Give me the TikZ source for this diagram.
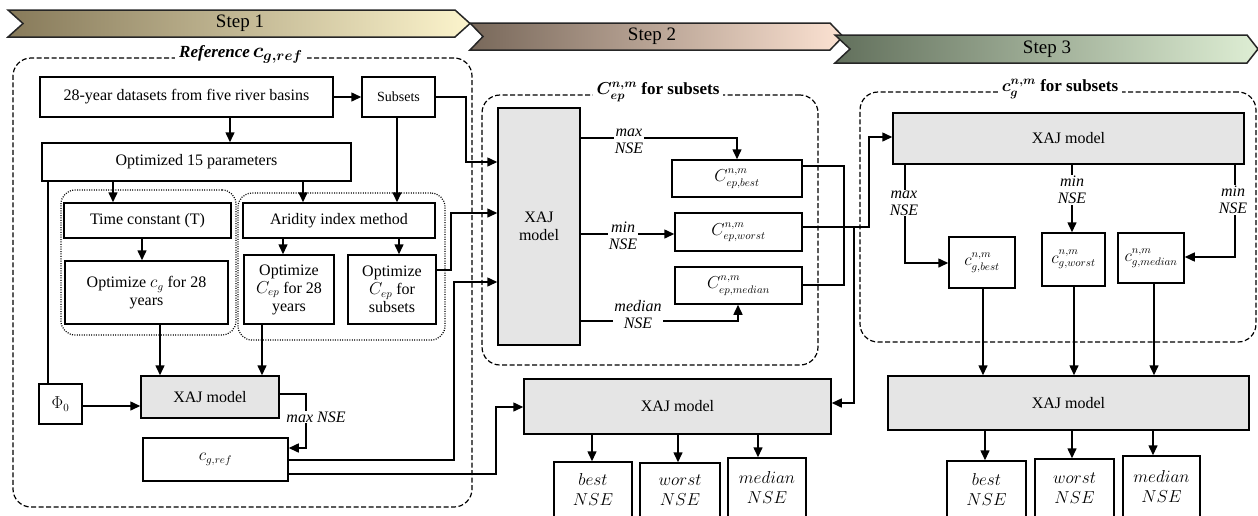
\documentclass[tikz,border=0pt]{standalone}
\usepackage{amsmath}
\usepackage{fontspec}
\setmainfont{Liberation Serif}
\usetikzlibrary{arrows.meta}

\definecolor{sOneL}{RGB}{135,122,90}
\definecolor{sOneR}{RGB}{252,244,204}
\definecolor{sTwoL}{RGB}{120,104,90}
\definecolor{sTwoR}{RGB}{252,226,210}
\definecolor{sThreeL}{RGB}{98,112,92}
\definecolor{sThreeR}{RGB}{222,238,212}
\definecolor{modelgray}{RGB}{229,229,229}

% box from its corners: name, x1, y1, x2, y2, style, text
\newcommand{\mkbox}[7]{%
  \node[#6, minimum width={(#4-#2)*1pt}, minimum height={(#5-#3)*1pt}]
    (#1) at ({(#2+#4)/2},{(#3+#5)/2}) {#7};}

\tikzset{
  box/.style={draw, line width=1.5pt, fill=white, inner sep=1pt, align=center,
    font=\fontsize{16}{18}\selectfont},
  model/.style={box, fill=modelgray},
  nse/.style={box, font=\fontsize{16}{20}\selectfont},
  grp/.style={draw, dash pattern=on 5pt off 2.5pt, line width=1.2pt, rounded corners=18pt, inner sep=0pt},
  dotgrp/.style={draw, dash pattern=on 1pt off 1.4pt, line width=1.2pt, rounded corners=14pt, inner sep=0pt},
  arr/.style={line width=1.5pt, -{Triangle[length=10pt,width=9pt]}},
  ln/.style={line width=1.5pt},
  lbl/.style={fill=white, inner sep=1pt, align=center, font=\fontsize{16}{17}\selectfont\itshape},
  ttl/.style={fill=white, inner sep=4pt, font=\fontsize{17}{18}\selectfont\bfseries},
  steptxt/.style={font=\fontsize{19}{20}\selectfont},
  banner/.style={line width=1.5pt, draw=black!85},
}

\begin{document}
\begin{tikzpicture}[x=1pt, y=-1pt]
\clip (0,0) rectangle (1258,515);
\fill[white] (0,0) rectangle (1258,515);

% ---- step banners ----
\draw[banner, left color=sOneL, right color=sOneR]
  (8,10) -- (455,10) -- (470,23.5) -- (455,37) -- (8,37) -- (23,23.5) -- cycle;
\draw[banner, left color=sTwoL, right color=sTwoR]
  (470,23) -- (830,23) -- (843,36.5) -- (830,50) -- (470,50) -- (483,36.5) -- cycle;
\draw[banner, left color=sThreeL, right color=sThreeR]
  (835,35) -- (1247,35) -- (1258,49) -- (1247,63) -- (835,63) -- (850,49) -- cycle;
\node[steptxt] (stepA) at (240,23.5) {Step 1};
\node[steptxt] (stepB) at (652,36.5) {Step 2};
\node[steptxt] (stepC) at (1047,49) {Step 3};

% ---- group frames ----
\mkbox{grpA}{13}{58}{472}{507}{grp}{}
\mkbox{dotA}{61}{190}{236}{335}{dotgrp}{}
\mkbox{dotB}{238}{193}{445}{340}{dotgrp}{}
\mkbox{grpB}{482}{95}{818}{365}{grp}{}
\mkbox{grpC}{860}{92}{1256}{342}{grp}{}

% ---- step 1 ----
\mkbox{data}{40}{77}{333}{117}{box}{28-year datasets from five river basins}
\mkbox{subsets}{362}{77}{435}{117}{box, font=\fontsize{14}{16}\selectfont}{Subsets}
\mkbox{optfif}{42}{143}{351}{181}{box}{Optimized 15 parameters}
\mkbox{tconst}{64}{203}{231}{238}{box}{Time constant (T)}
\mkbox{aridity}{243}{203}{435}{238}{box}{Aridity index method}
\mkbox{optcg}{65}{261}{228}{324}{box}{Optimize $c_g$ for 28\\years}
\mkbox{optcepa}{244}{255}{334}{324}{box}{Optimize\\$C_{ep}$ for 28\\years}
\mkbox{optcepb}{348}{255}{436}{324}{box}{Optimize\\$C_{ep}$ for\\subsets}
\mkbox{xajA}{141}{376}{279}{418}{model}{XAJ model}
\mkbox{phi}{39}{384}{82}{424}{box}{$\Phi_0$}
\mkbox{cgref}{143}{438}{288}{481}{box}{$c_{g,ref}$}

% ---- step 2 ----
\mkbox{xajB}{498}{108}{580}{345}{model}{XAJ\\model}
\mkbox{cbest}{672}{160}{802}{197}{box}{$C_{ep,best}^{n,m}$}
\mkbox{cworst}{675}{213}{802}{251}{box}{$C_{ep,worst}^{n,m}$}
\mkbox{cmed}{675}{267}{802}{304}{box}{$C_{ep,median}^{n,m}$}
\mkbox{xajC}{524}{379}{831}{434}{model}{XAJ model}
\mkbox{bestB}{554}{462}{632}{517}{nse}{$best$\\$NSE$}
\mkbox{worstB}{640}{463}{720}{517}{nse}{$worst$\\$NSE$}
\mkbox{medB}{728}{458}{806}{517}{nse}{$median$\\$NSE$}

% ---- step 3 ----
\mkbox{xajD}{893}{113}{1244}{164}{model}{XAJ model}
\mkbox{gbest}{949}{237}{1015}{288}{box}{$c_{g,best}^{n,m}$}
\mkbox{gworst}{1042}{233}{1105}{286}{box}{$c_{g,worst}^{n,m}$}
\mkbox{gmed}{1118}{233}{1184}{283}{box}{$c_{g,median}^{n,m}$}
\mkbox{xajE}{888}{376}{1249}{430}{model}{XAJ model}
\mkbox{bestC}{947}{461}{1026}{517}{nse}{$best$\\$NSE$}
\mkbox{worstC}{1035}{459}{1114}{517}{nse}{$worst$\\$NSE$}
\mkbox{medC}{1123}{456}{1200}{517}{nse}{$median$\\$NSE$}

% ---- connectors, step 1 ----
\draw[arr] (data) -- (subsets);
\draw[arr] (data.south -| 230,0) -- (optfif.north -| 230,0);
\draw[arr] (optfif.south -| 113,0) -- (tconst.north -| 113,0);
\draw[arr] (optfif.south -| 303,0) -- (aridity.north -| 303,0);
\draw[arr] (subsets.south -| 397,0) -- (aridity.north -| 397,0);
\draw[arr] (tconst.south -| 142,0) -- (optcg.north -| 142,0);
\draw[arr] (aridity.south -| 283,0) -- (optcepa.north -| 283,0);
\draw[arr] (aridity.south -| 399,0) -- (optcepb.north -| 399,0);
\draw[arr] (optcg.south -| 160,0) -- (xajA.north -| 160,0);
\draw[arr] (optcepa.south -| 262,0) -- (xajA.north -| 262,0);
\draw[ln] (optfif.south -| 48,0) -- (phi.north -| 48,0);
\draw[arr] (phi.east |- 0,406) -- (xajA.west |- 0,406);
\draw[arr] (xajA.east |- 0,394) -- ++(26,0) |- (cgref.east |- 0,448);

% ---- connectors into step 2 ----
\draw[arr] (subsets.east) -- ++(30,0) |- (xajB.west |- 0,162);
\draw[arr] (optcepb.east |- 0,270) -- ++(14,0) |- (xajB.west |- 0,213);
\draw[arr] (cgref.east |- 0,460) -- ++(165,0) |- (xajB.west |- 0,282);
\draw[arr] (cgref.east |- 0,474) -- ++(207,0) |- (xajC.west |- 0,407);

% ---- connectors, step 2 ----
\draw[arr] (xajB.east |- 0,138) -| (cbest.north -| 737,0);
\draw[arr] (xajB.east |- 0,234) -- (cworst.west |- 0,234);
\draw[arr] (xajB.east |- 0,321) -| (cmed.south -| 738,0);
\draw[ln] (cbest.east |- 0,166) -| (844,225) |- (cmed.east |- 0,285);
\draw[arr] (cworst.east |- 0,227) -- ++(66,0) |- (xajD.west |- 0,137);
\draw[arr] (cworst.east |- 0,227) -- ++(51,0) |- (xajC.east |- 0,403);
\draw[arr] (xajC.south -| 592,0) -- (bestB.north -| 592,0);
\draw[arr] (xajC.south -| 678,0) -- (worstB.north -| 678,0);
\draw[arr] (xajC.south -| 758,0) -- (medB.north -| 758,0);

% ---- connectors, step 3 ----
\draw[arr] (xajD.south -| 905,0) |- (gbest.west |- 0,263);
\draw[arr] (xajD.south -| 1072,0) -- (gworst.north -| 1072,0);
\draw[arr] (xajD.south -| 1235,0) |- (gmed.east |- 0,257);
\draw[arr] (gbest.south -| 983,0) -- (xajE.north -| 983,0);
\draw[arr] (gworst.south -| 1074,0) -- (xajE.north -| 1074,0);
\draw[arr] (gmed.south -| 1154,0) -- (xajE.north -| 1154,0);
\draw[arr] (xajE.south -| 985,0) -- (bestC.north -| 985,0);
\draw[arr] (xajE.south -| 1072,0) -- (worstC.north -| 1072,0);
\draw[arr] (xajE.south -| 1153,0) -- (medC.north -| 1153,0);

% ---- edge labels ----
\node[lbl] (lmaxA) at (316,417) {max NSE};
\node[lbl] (lmaxB) at (629,141) {max\\NSE};
\node[lbl] (lminB) at (623,236) {min\\NSE};
\node[lbl] (lmedB) at (638,315) {median\\NSE};
\node[lbl] (lmaxD) at (904,203) {max\\NSE};
\node[lbl] (lminD) at (1072,190) {min\\NSE};
\node[lbl] (lminE) at (1233,200) {min\\NSE};

% ---- group titles ----
\node[ttl] (ttlA) at (241,54) {\itshape Reference\,{\fontsize{22}{22}\selectfont$\boldsymbol{c_{g,ref}}$}};
\node[ttl] (ttlB) at (658,92) {$\boldsymbol{C_{ep}^{n,m}}$ for subsets};
\node[ttl] (ttlC) at (1060,89) {$\boldsymbol{c_{g}^{n,m}}$ for subsets};
\end{tikzpicture}
\end{document}
